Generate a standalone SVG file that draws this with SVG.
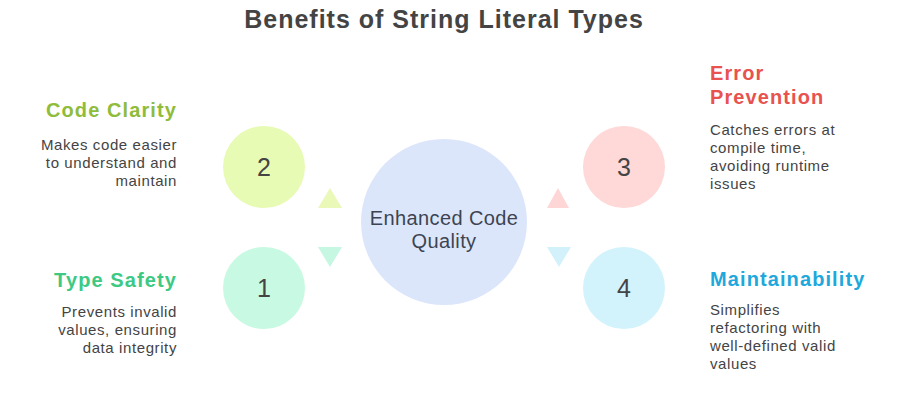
<svg xmlns="http://www.w3.org/2000/svg" width="900" height="396" viewBox="0 0 900 396">
<style>
.t{font-family:"Liberation Sans",Arial,sans-serif}
.title{font-size:25px;font-weight:bold;fill:#444444;letter-spacing:1px}
.h{font-size:20px;font-weight:bold;letter-spacing:1.1px}
.d{font-size:15px;fill:#444444;letter-spacing:0.6px}
.n{font-size:25px;fill:#444444}
.c{font-size:20px;fill:#3c4452;letter-spacing:0.4px}
</style>
<rect width="900" height="396" fill="#ffffff"/>
<text class="t title" x="444" y="28" text-anchor="middle">Benefits of String Literal Types</text>
<g id="connectors">
<polygon points="330,188 342,208 318,208" fill="#eaf8b8"/>
<polygon points="318,247 342,247 330,267" fill="#c6f7e2"/>
<polygon points="558,188 569,208 547,208" fill="#ffd6d6"/>
<polygon points="547,247 571,247 559,267" fill="#d2f1fb"/>
</g>
<g id="center">
<circle cx="444" cy="222" r="83" fill="#dce6fb"/>
<text class="t c" x="444" y="225" text-anchor="middle">Enhanced Code</text>
<text class="t c" x="444" y="248" text-anchor="middle">Quality</text>
</g>
<g id="node2">
<circle cx="264" cy="167" r="41" fill="#e8fbb5"/>
<text class="t n" x="264" y="176" text-anchor="middle">2</text>
<text class="t h" x="177" y="117" text-anchor="end" fill="#8fbc3a">Code Clarity</text>
<text class="t d" text-anchor="end"><tspan x="177" y="150">Makes code easier</tspan><tspan x="177" y="168">to understand and</tspan><tspan x="177" y="186">maintain</tspan></text>
</g>
<g id="node1">
<circle cx="264" cy="288" r="41" fill="#c8f9e2"/>
<text class="t n" x="264" y="297" text-anchor="middle">1</text>
<text class="t h" x="177" y="287" text-anchor="end" fill="#3cc983">Type Safety</text>
<text class="t d" text-anchor="end"><tspan x="177" y="317">Prevents invalid</tspan><tspan x="177" y="335">values, ensuring</tspan><tspan x="177" y="353">data integrity</tspan></text>
</g>
<g id="node3">
<circle cx="624" cy="167" r="41" fill="#ffd8d8"/>
<text class="t n" x="624" y="176" text-anchor="middle">3</text>
<text class="t h" x="710" y="80" fill="#e8524f">Error</text>
<text class="t h" x="710" y="104" fill="#e8524f">Prevention</text>
<text class="t d"><tspan x="710" y="135">Catches errors at</tspan><tspan x="710" y="153">compile time,</tspan><tspan x="710" y="171">avoiding runtime</tspan><tspan x="710" y="189">issues</tspan></text>
</g>
<g id="node4">
<circle cx="624" cy="288" r="41" fill="#d2f2fc"/>
<text class="t n" x="624" y="297" text-anchor="middle">4</text>
<text class="t h" x="710" y="286" fill="#1ea8dc">Maintainability</text>
<text class="t d"><tspan x="710" y="315">Simplifies</tspan><tspan x="710" y="333">refactoring with</tspan><tspan x="710" y="351">well-defined valid</tspan><tspan x="710" y="369">values</tspan></text>
</g>
</svg>
